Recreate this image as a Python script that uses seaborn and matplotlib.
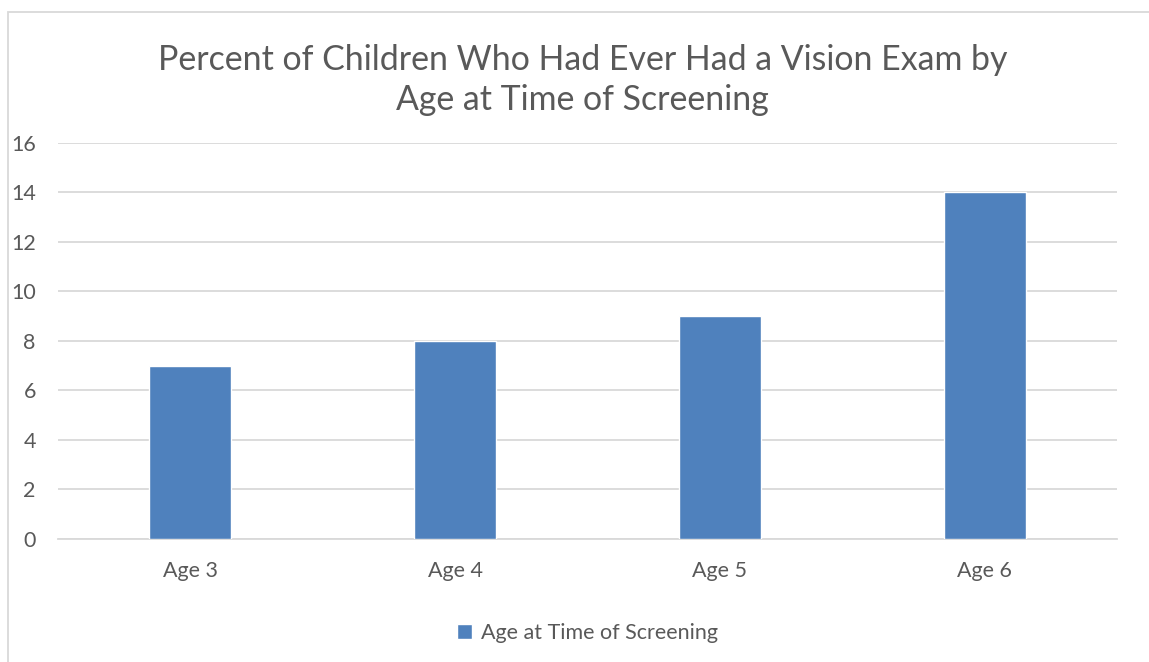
import matplotlib
matplotlib.use("Agg")
import matplotlib.pyplot as plt
import seaborn as sns
import pandas as pd
from matplotlib.patches import Rectangle

# data
ages = ["Age 3", "Age 4", "Age 5", "Age 6"]
percent = [7, 8, 9, 14]
y_ticks = [0, 2, 4, 6, 8, 10, 12, 14, 16]
series_name = "Age at Time of Screening"
title = "Percent of Children Who Had Ever Had a Vision Exam by\nAge at Time of Screening"

df = pd.DataFrame({"age": ages, "percent": percent})

sns.set_theme(style="white")
plt.rcParams['font.family'] = ['Lato', 'DejaVu Sans']

text_color = "#595959"
grid_color = "#d9d9d9"
bar_color = "#4f81bd"

fig = plt.figure(figsize=(11.49, 6.62), dpi=100)
ax = fig.add_axes([0.0505, 0.1858, 0.9217, 0.5982])

sns.barplot(data=df, x="age", y="percent", color=bar_color, width=0.31,
            saturation=1, ax=ax, label=series_name, zorder=3)

ax.set_xlim(-0.5, 3.5)
ax.set_ylim(0, 16)
ax.set_yticks(y_ticks)
ax.yaxis.grid(True, color=grid_color, linewidth=1.3, zorder=0)
ax.set_axisbelow(True)
for s in ["top", "right", "left"]:
    ax.spines[s].set_visible(False)
ax.spines["bottom"].set_color(grid_color)
ax.spines["bottom"].set_linewidth(1.3)
ax.tick_params(axis="both", length=0, labelsize=15.5, colors=text_color)
ax.tick_params(axis="y", pad=16)
ax.tick_params(axis="x", pad=16)
ax.set_xlabel("")
ax.set_ylabel("")

fig.text(0.507, 0.879, title, ha="center", va="center", fontsize=24.4,
         color=text_color, linespacing=1.3)

leg = ax.legend(loc="center", bbox_to_anchor=(0.5, -0.237), frameon=False,
                fontsize=15.5, handlelength=0.7, handleheight=0.7,
                handletextpad=0.4, labelcolor=text_color)

# outer chart border
fig.add_artist(Rectangle((8 / 1149, -0.01), 1.1, 1 - 12 / 662 + 0.01,
                         transform=fig.transFigure, fill=False,
                         edgecolor=grid_color, linewidth=1.3))

fig.savefig("out.png", dpi=100, facecolor="white")
